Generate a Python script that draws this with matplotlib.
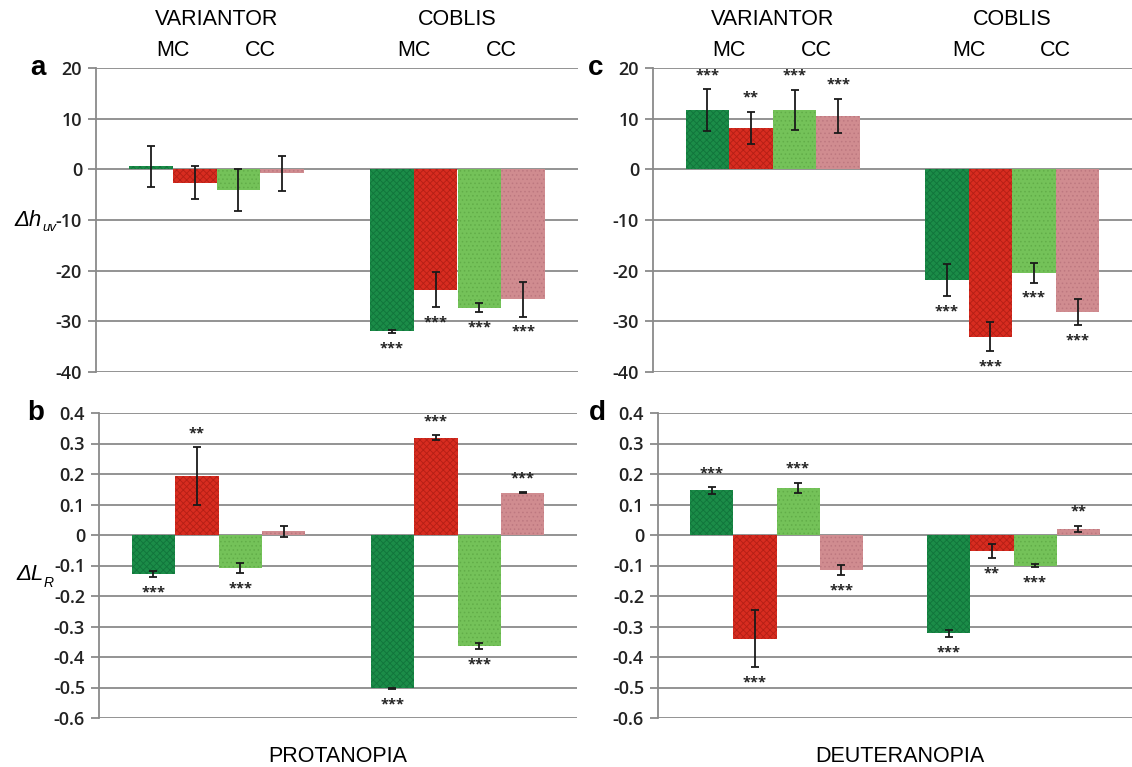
import matplotlib
matplotlib.use("Agg")
import matplotlib.pyplot as plt
import numpy as np

plt.rcParams['font.family'] = ['Open Sans', 'DejaVu Sans']
plt.rcParams['hatch.linewidth'] = 0.6

tools = ["VARIANTOR", "COBLIS"]
series = ["MC green", "MC red", "CC green", "CC red"]
face = ["#1b8c48", "#d82c20", "#74c259", "#d08c90"]
hatchc = ["#11743b", "#b41f16", "#62ad49", "#bd7880"]
hatches = ["xxxxx", "xxxxx", "....", "...."]

# hue difference, rows = series, cols = tool
dh_prot = [[0.6, -32.0], [-2.6, -23.8], [-4.1, -27.3], [-0.8, -25.6]]
dh_prot_err = [[4.05, 0.3], [3.3, 3.45], [4.1, 0.9], [3.4, 3.45]]
dh_prot_sig = [["", "***"], ["", "***"], ["", "***"], ["", "***"]]

dh_deut = [[11.7, -21.8], [8.2, -33.0], [11.7, -20.4], [10.6, -28.2]]
dh_deut_err = [[4.1, 3.15], [3.2, 2.95], [4.0, 1.95], [3.35, 2.6]]
dh_deut_sig = [["***", "***"], ["**", "***"], ["***", "***"], ["***", "***"]]

# lightness difference
dl_prot = [[-0.128, -0.503], [0.193, 0.319], [-0.108, -0.364], [0.012, 0.139]]
dl_prot_err = [[0.01, 0.002], [0.094, 0.009], [0.016, 0.009], [0.019, 0.002]]
dl_prot_sig = [["***", "***"], ["**", "***"], ["***", "***"], ["", "***"]]

dl_deut = [[0.146, -0.322], [-0.340, -0.052], [0.155, -0.101], [-0.114, 0.020]]
dl_deut_err = [[0.01, 0.012], [0.093, 0.023], [0.017, 0.005], [0.017, 0.01]]
dl_deut_sig = [["***", "***"], ["***", "**"], ["***", "***"], ["***", "**"]]

W, H = 1132, 767
fig = plt.figure(figsize=(W / 100, H / 100), dpi=100)


def px_axes(l, r, t, b):
    return fig.add_axes([l / W, 1 - b / H, (r - l) / W, (b - t) / H])


grey = "#8a8a8a"
bw = 1 / 5.5


def panel(ax, vals, errs, sigs, ylim, yticks, ticklabels):
    x = np.arange(len(tools))
    for i in range(4):
        xi = x + (i - 1.5) * bw
        v = np.array(vals[i])
        e = np.array(errs[i])
        ax.bar(xi, v, bw, color=face[i], edgecolor=hatchc[i], hatch=hatches[i],
               linewidth=0, zorder=2)
        ax.errorbar(xi, v, yerr=e, fmt="none", ecolor="#1a1a1a", elinewidth=1.3,
                    capsize=3.2, capthick=1.3, zorder=3)
        for j in range(len(tools)):
            s = sigs[i][j]
            if not s:
                continue
            if v[j] >= 0:
                ax.annotate(s, (xi[j], v[j] + e[j]), xytext=(0, 10),
                            textcoords="offset points", ha="center", va="center",
                            fontsize=10.5, fontweight="bold", color="#222222")
            else:
                ax.annotate(s, (xi[j], v[j] - e[j]), xytext=(0, -11),
                            textcoords="offset points", ha="center", va="center",
                            fontsize=10.5, fontweight="bold", color="#222222")
    ax.set_xlim(-0.5, 1.5)
    ax.set_ylim(*ylim)
    ax.set_yticks(yticks)
    ax.set_yticklabels(ticklabels)
    ax.set_xticks([])
    for s in ["top", "right", "bottom"]:
        ax.spines[s].set_visible(False)
    ax.spines["left"].set_color(grey)
    ax.spines["left"].set_linewidth(1.3)
    ax.tick_params(axis="y", direction="out", length=6, width=1.3, color=grey,
                   labelsize=13, pad=4)
    for lab in ax.get_yticklabels():
        lab.set_fontweight("semibold")
        lab.set_color("#222222")
    ax.yaxis.grid(True, color=grey, linewidth=1.3, zorder=0)
    ax.set_axisbelow(True)
    ax.patch.set_alpha(0)


def headers(ax):
    tr = ax.get_xaxis_transform()
    for j, name in enumerate(tools):
        ax.text(j, 1.16, name, transform=tr, ha="center", va="center",
                fontsize=15.5, family="Liberation Sans", clip_on=False)
        ax.text(j - bw, 1.056, "MC", transform=tr, ha="center", va="center",
                fontsize=15.5, family="Liberation Sans")
        ax.text(j + bw, 1.056, "CC", transform=tr, ha="center", va="center",
                fontsize=15.5, family="Liberation Sans")


h_ticks = [20, 10, 0, -10, -20, -30, -40]
l_ticks = [0.4, 0.3, 0.2, 0.1, 0, -0.1, -0.2, -0.3, -0.4, -0.5, -0.6]
l_labels = ["0" if t == 0 else f"{t:.1f}" for t in l_ticks]

ax_a = px_axes(96, 578, 68, 372)
panel(ax_a, dh_prot, dh_prot_err, dh_prot_sig, (-40, 20), h_ticks,
      [str(t) for t in h_ticks])
headers(ax_a)

ax_c = px_axes(653, 1132, 68, 372)
panel(ax_c, dh_deut, dh_deut_err, dh_deut_sig, (-40, 20), h_ticks,
      [str(t) for t in h_ticks])
headers(ax_c)

ax_b = px_axes(99, 577, 413, 718)
panel(ax_b, dl_prot, dl_prot_err, dl_prot_sig, (-0.6, 0.4), l_ticks, l_labels)

ax_d = px_axes(658, 1132, 413, 718)
panel(ax_d, dl_deut, dl_deut_err, dl_deut_sig, (-0.6, 0.4), l_ticks, l_labels)

# panel letters
for letter, xp, yp in [("a", 38, 68), ("b", 36, 413), ("c", 596, 68), ("d", 597, 413)]:
    fig.text(xp / W, 1 - yp / H, letter, ha="center", va="center",
             fontsize=20, fontweight="bold", family="Liberation Sans")

# y-axis labels with italic subscripts
fig.text(42 / W, 1 - 220 / H, "Δh", ha="right", va="center", fontsize=16,
         style="italic", family="Liberation Sans")
fig.text(42 / W, 1 - 228 / H, "uv", ha="left", va="center", fontsize=9.5,
         style="italic", family="Liberation Sans")
fig.text(44 / W, 1 - 575 / H, "ΔL", ha="right", va="center", fontsize=16,
         style="italic", family="Liberation Sans")
fig.text(44 / W, 1 - 583 / H, "R", ha="left", va="center", fontsize=10,
         style="italic", family="Liberation Sans")

ax_b.text(0.5, -0.125, "PROTANOPIA", transform=ax_b.transAxes, ha="center",
          va="center", fontsize=15.5, family="Liberation Sans")
ax_d.text(0.51, -0.125, "DEUTERANOPIA", transform=ax_d.transAxes, ha="center",
          va="center", fontsize=15.5, family="Liberation Sans")

fig.savefig("out.png", dpi=100)
